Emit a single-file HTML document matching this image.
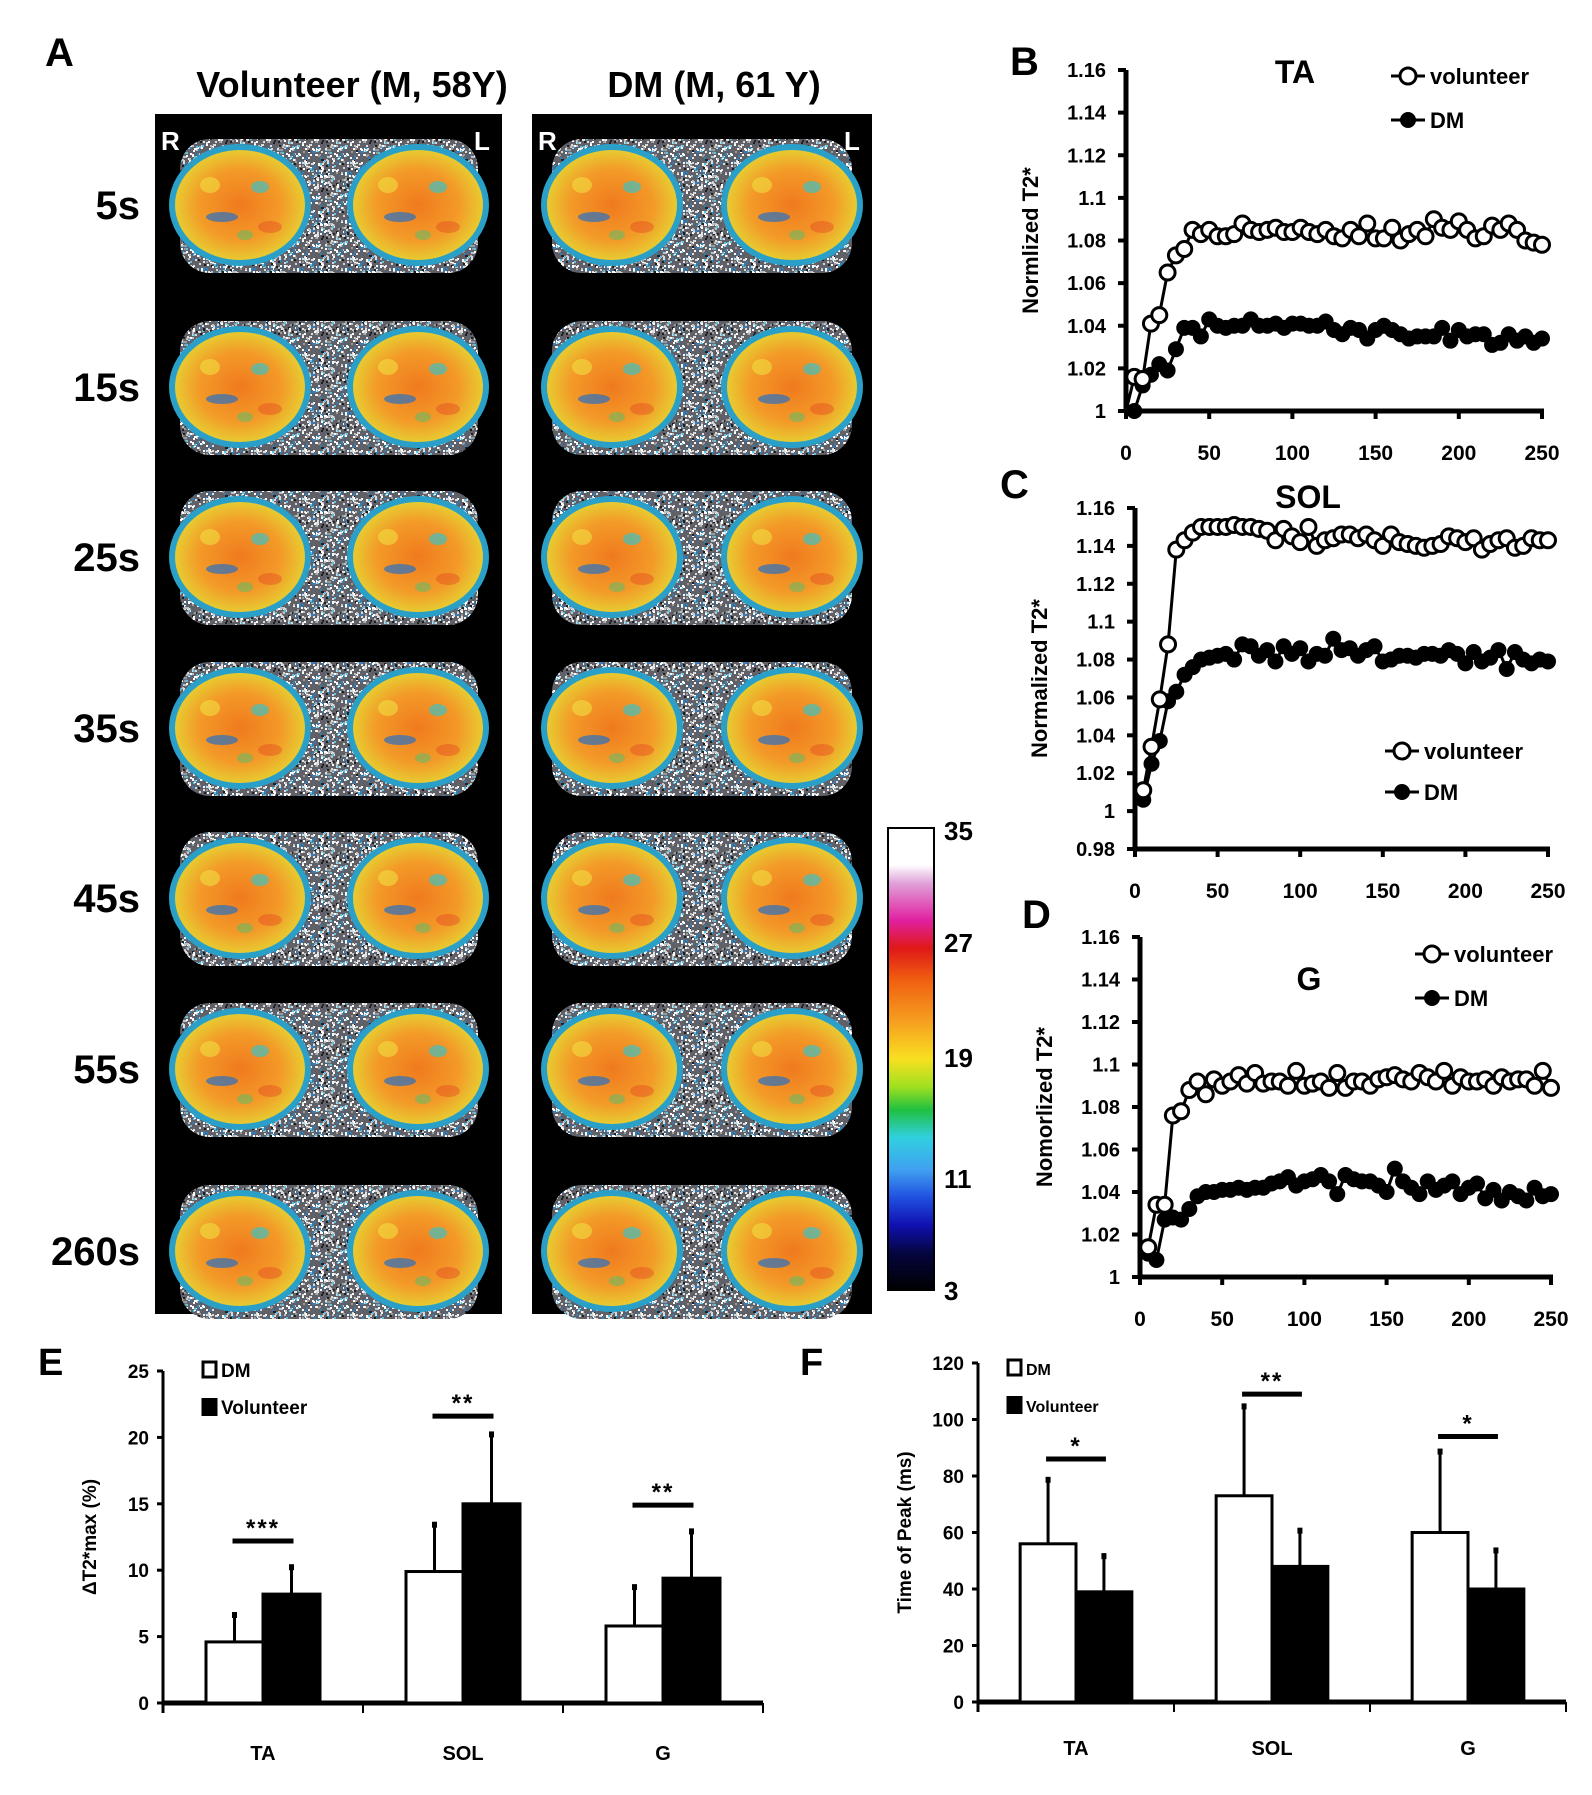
<!DOCTYPE html>
<html><head><meta charset="utf-8"><style>
html,body{margin:0;padding:0;background:#fff;}
svg{display:block;font-family:"Liberation Sans",sans-serif;font-weight:bold;}
</style></head><body>
<svg id="fig" width="1592" height="1795" viewBox="0 0 1592 1795" xmlns="http://www.w3.org/2000/svg">
<defs>
<radialGradient id="legGrad" cx="50%" cy="50%" r="55%">
<stop offset="0%" stop-color="#f07a1e"/><stop offset="55%" stop-color="#f39a28"/><stop offset="85%" stop-color="#e8c830"/><stop offset="100%" stop-color="#9fd060"/>
</radialGradient>
<linearGradient id="cbGrad" x1="0" y1="0" x2="0" y2="1">
<stop offset="0" stop-color="#ffffff"/><stop offset="0.08" stop-color="#ffffff"/><stop offset="0.12" stop-color="#e0a0d8"/><stop offset="0.2" stop-color="#e020a0"/><stop offset="0.26" stop-color="#e01818"/><stop offset="0.33" stop-color="#f06010"/><stop offset="0.42" stop-color="#f6a020"/><stop offset="0.5" stop-color="#f8e020"/><stop offset="0.56" stop-color="#a0e020"/><stop offset="0.61" stop-color="#20c040"/><stop offset="0.67" stop-color="#30d0e0"/><stop offset="0.74" stop-color="#40a0f0"/><stop offset="0.8" stop-color="#2050e0"/><stop offset="0.86" stop-color="#1010b0"/><stop offset="0.92" stop-color="#050540"/><stop offset="1" stop-color="#000"/>
</linearGradient>
<pattern id="speckle" width="48" height="48" patternUnits="userSpaceOnUse"><g id="speckleTile"></g></pattern>
</defs>
<g id="root"></g>
</svg>
<script>
// ---------- data ----------
const timeB = [5,10,15,20,25,30,35,40,45,50,55,60,65,70,75,80,85,90,95,100,105,110,115,120,125,130,135,140,145,150,155,160,165,170,175,180,185,190,195,200,205,210,215,220,225,230,235,240,245,250];
const taVolunteer = [1.016,1.015,1.041,1.045,1.065,1.073,1.076,1.085,1.083,1.085,1.082,1.082,1.083,1.088,1.085,1.084,1.085,1.086,1.084,1.084,1.086,1.084,1.083,1.085,1.082,1.081,1.085,1.082,1.088,1.081,1.081,1.086,1.080,1.083,1.085,1.082,1.090,1.086,1.085,1.089,1.085,1.081,1.082,1.087,1.085,1.088,1.085,1.080,1.079,1.078];
const taDM = [1.000,1.012,1.017,1.022,1.019,1.029,1.039,1.039,1.035,1.043,1.040,1.039,1.040,1.040,1.043,1.040,1.040,1.041,1.039,1.041,1.041,1.040,1.040,1.042,1.038,1.036,1.039,1.038,1.034,1.038,1.040,1.038,1.036,1.034,1.035,1.035,1.035,1.039,1.033,1.038,1.035,1.036,1.036,1.031,1.032,1.036,1.033,1.035,1.032,1.034];
const solVolunteer = [1.011,1.034,1.059,1.088,1.138,1.143,1.147,1.150,1.150,1.150,1.150,1.151,1.150,1.150,1.149,1.148,1.143,1.149,1.145,1.142,1.150,1.140,1.143,1.144,1.146,1.146,1.144,1.146,1.143,1.140,1.146,1.142,1.141,1.140,1.139,1.140,1.141,1.145,1.144,1.142,1.144,1.138,1.141,1.143,1.144,1.139,1.140,1.144,1.143,1.143];
const solDM = [1.006,1.025,1.037,1.058,1.063,1.072,1.076,1.080,1.081,1.082,1.083,1.080,1.088,1.087,1.082,1.085,1.079,1.087,1.083,1.086,1.079,1.083,1.082,1.091,1.085,1.086,1.082,1.085,1.087,1.079,1.080,1.082,1.082,1.081,1.083,1.083,1.082,1.085,1.083,1.078,1.084,1.079,1.081,1.085,1.075,1.084,1.080,1.078,1.080,1.079];
const gVolunteer = [1.014,1.034,1.034,1.076,1.078,1.088,1.092,1.086,1.093,1.090,1.092,1.095,1.091,1.096,1.091,1.092,1.092,1.090,1.097,1.090,1.091,1.092,1.089,1.096,1.089,1.092,1.092,1.090,1.093,1.094,1.095,1.093,1.092,1.096,1.094,1.092,1.097,1.090,1.094,1.092,1.092,1.093,1.090,1.094,1.092,1.093,1.093,1.090,1.097,1.089];
const gDM = [1.011,1.008,1.027,1.028,1.027,1.032,1.038,1.040,1.040,1.041,1.041,1.042,1.041,1.042,1.042,1.044,1.045,1.047,1.043,1.045,1.046,1.048,1.045,1.039,1.048,1.046,1.045,1.045,1.043,1.040,1.051,1.045,1.042,1.039,1.045,1.041,1.043,1.045,1.039,1.042,1.044,1.037,1.041,1.036,1.040,1.038,1.036,1.042,1.038,1.039];
const xTicks = [0,50,100,150,200,250];
const yTicksBD = [1,1.02,1.04,1.06,1.08,1.1,1.12,1.14,1.16];
const yTickLabelsBD = ["1","1.02","1.04","1.06","1.08","1.1","1.12","1.14","1.16"];
const yTicksC = [0.98,1,1.02,1.04,1.06,1.08,1.1,1.12,1.14,1.16];
const yTickLabelsC = ["0.98","1","1.02","1.04","1.06","1.08","1.1","1.12","1.14","1.16"];

const barCategories = ["TA","SOL","G"];
const eDM = [4.6,9.9,5.8];
const eDMErr = [6.7,13.5,8.8];
const eVol = [8.2,15.0,9.4];
const eVolErr = [10.3,20.3,13.0];
const eSigLevel = [12.2,21.6,14.9];
const eSigText = ["***","**","**"];
const eTicks = [0,5,10,15,20,25];
const fDM = [56,73,60];
const fDMErr = [79,105,89];
const fVol = [39,48,40];
const fVolErr = [52,61,54];
const fSigLevel = [86,109,94];
const fSigText = ["*","**","*"];
const fTicks = [0,20,40,60,80,100,120];
const timeLabels = ["5s","15s","25s","35s","45s","55s","260s"];
const colorbarLabels = ["35","27","19","11","3"];

// ---------- helpers ----------
const NS="http://www.w3.org/2000/svg";
const root=document.getElementById('root');
function mk(tag,attrs,parent,text){const e=document.createElementNS(NS,tag);for(const k in attrs)e.setAttribute(k,attrs[k]);if(text!==undefined)e.textContent=text;(parent||root).appendChild(e);return e;}

let seed=7;function rnd(){seed=(seed*16807)%2147483647;return seed/2147483647;}
const tile=document.getElementById('speckleTile');
const specCols=["#ffffff","#d8d8d8","#9a9a9a","#3080c0","#60c0e0","#ffffff","#c0c0c0","#202020","#e0e0e0"];
mk('rect',{x:0,y:0,width:48,height:48,fill:'#606068'},tile);
for(let i=0;i<320;i++){mk('rect',{x:Math.floor(rnd()*47),y:Math.floor(rnd()*47),width:2,height:2,fill:specCols[Math.floor(rnd()*specCols.length)]},tile);}

function txt(x,y,s,size,name,anchor,extra){const t=mk('text',Object.assign({x:x,y:y,'font-size':size,'text-anchor':anchor||'start',fill:'#000'},extra||{}),root,s);

return t;}
txt(45,66,"A",40,"panel-label-a");
txt(352,97,"Volunteer (M, 58Y)",36,"volunteer-header","middle");
txt(714,97,"DM (M, 61 Y)",36,"dm-header","middle");

const rowCenters=[205,387,557,728,898,1069,1251];
function mriPanel(x0,x1,name,leftC,rightC){
  const g=mk('g',{});
  
  
  mk('rect',{x:x0,y:114,width:x1-x0,height:1200,fill:'#000'},g);
  rowCenters.forEach((yc,i)=>{
    const cell=mk('g',{},g);
    
    
    mk('rect',{x:leftC-60,y:yc-66,width:rightC-leftC+120,height:134,rx:30,fill:'url(#speckle)'},cell);
    [leftC,rightC].forEach(cx=>{
      mk('ellipse',{cx:cx,cy:yc,rx:68,ry:58,fill:'url(#legGrad)',stroke:'#2aa0c8','stroke-width':6},cell);
      mk('ellipse',{cx:cx-18,cy:yc+12,rx:16,ry:5,fill:'#2a70c0',opacity:0.7},cell);
      mk('ellipse',{cx:cx+20,cy:yc-18,rx:9,ry:6,fill:'#40c0c0',opacity:0.7},cell);
      mk('ellipse',{cx:cx-30,cy:yc-20,rx:10,ry:8,fill:'#f0e040',opacity:0.6},cell);
      mk('ellipse',{cx:cx+30,cy:yc+22,rx:12,ry:6,fill:'#e04020',opacity:0.4},cell);
      mk('ellipse',{cx:cx+5,cy:yc+30,rx:8,ry:5,fill:'#50c070',opacity:0.5},cell);
    });
  });
  mk('text',{x:x0+6,y:150,'font-size':26,fill:'#fff'},g,'R');
  mk('text',{x:x1-28,y:150,'font-size':26,fill:'#fff'},g,'L');
}
mriPanel(155,502,'volunteer-mri-panel',240,418);
mriPanel(532,872,'dm-mri-panel',612,792);
timeLabels.forEach((s,i)=>{txt(140,rowCenters[i]+14,s,40,'time-label-'+s,'end');});

const cb=mk('rect',{x:888,y:828,width:46,height:462,fill:'url(#cbGrad)',stroke:'#000','stroke-width':2});


const cbY=[840,952,1067,1188,1300];
colorbarLabels.forEach((s,i)=>txt(944,cbY[i],s,26,'colorbar-label-'+s));

function lineChart(o){
  const g=mk('g',{});
  
  
  const sx=v=>o.x0+(v-0)/(250)*(o.x1-o.x0);
  const sy=v=>o.yb+(v-o.ymin)/(o.ymax-o.ymin)*(o.yt-o.yb);
  mk('line',{x1:o.x0,y1:o.yt,x2:o.x0,y2:o.yb+2,stroke:'#000','stroke-width':5},g);
  mk('line',{x1:o.x0-2,y1:o.yb,x2:o.x1+2,y2:o.yb,stroke:'#000','stroke-width':5},g);
  o.yt_.forEach((v,i)=>{mk('line',{x1:o.x0-8,y1:sy(v),x2:o.x0,y2:sy(v),stroke:'#000','stroke-width':4},g);
    mk('text',{x:o.x0-20,y:sy(v)+7,'font-size':20,'text-anchor':'end'},g,o.ytl[i]);});
  xTicks.forEach(v=>{mk('line',{x1:sx(v),y1:o.yb,x2:sx(v),y2:o.yb+8,stroke:'#000','stroke-width':4},g);
    mk('text',{x:sx(v),y:o.xly,'font-size':21,'text-anchor':'middle'},g,String(v));});
  const t=mk('text',{x:0,y:0,'font-size':22,'text-anchor':'middle',transform:`translate(${o.x0-88},${(o.yt+o.yb)/2}) rotate(-90)`},g,o.ytitle);
  
  
  mk('text',{x:o.tx,y:o.ty,'font-size':32,'text-anchor':'middle'},g,o.title);
  function series(vals,filled,nm){
    const sg=mk('g',{},g);
    
    
    const pts=vals.map((v,i)=>sx(timeB[i])+','+sy(Math.max(v,o.ymin))).join(' ');
    mk('polyline',{points:(o.start?sx(0)+','+sy(1)+' ':'')+pts,fill:'none',stroke:'#000','stroke-width':3},sg);
    vals.forEach((v,i)=>{mk('circle',{cx:sx(timeB[i]),cy:sy(v),r:filled?6.5:7.5,fill:filled?'#000':'#fff',stroke:'#000','stroke-width':3},sg);});
  }
  series(o.dm,true,o.name+'-dm-series');
  series(o.vol,false,o.name+'-volunteer-series');
  const lg=mk('g',{},g);
  
  
  [[o.ly1,'volunteer',false],[o.ly2,'DM',true]].forEach(([y,s,f])=>{
    mk('line',{x1:o.lx-17,y1:y,x2:o.lx+17,y2:y,stroke:'#000','stroke-width':3},lg);
    mk('circle',{cx:o.lx,cy:y,r:f?6.5:8,fill:f?'#000':'#fff',stroke:'#000','stroke-width':3},lg);
    mk('text',{x:o.lx+22,y:y+8,'font-size':22},lg,s);
  });
}
txt(1010,75,"B",40,"panel-label-b");
lineChart({name:'chart-b-ta',x0:1126,x1:1542,yt:70,yb:411,ymin:1,ymax:1.16,yt_:yTicksBD,ytl:yTickLabelsBD,xly:460,ytitle:'Normlized T2*',title:'TA',tx:1295,ty:83,vol:taVolunteer,dm:taDM,lx:1408,ly1:76,ly2:120,start:true});
txt(1000,498,"C",40,"panel-label-c");
lineChart({name:'chart-c-sol',x0:1135,x1:1548,yt:508,yb:849,ymin:0.98,ymax:1.16,yt_:yTicksC,ytl:yTickLabelsC,xly:898,ytitle:'Normalized T2*',title:'SOL',tx:1308,ty:508,vol:solVolunteer,dm:solDM,lx:1402,ly1:751,ly2:792});
txt(1022,928,"D",40,"panel-label-d");
lineChart({name:'chart-d-g',x0:1140,x1:1551,yt:937,yb:1277,ymin:1,ymax:1.16,yt_:yTicksBD,ytl:yTickLabelsBD,xly:1326,ytitle:'Nomorlized T2*',title:'G',tx:1309,ty:990,vol:gVolunteer,dm:gDM,lx:1432,ly1:954,ly2:998});

function barChart(o){
  const g=mk('g',{});
  
  
  const sy=v=>o.yb-(v/o.ymax)*(o.yb-o.yt);
  const cw=(o.x1-o.x0)/3;
  mk('line',{x1:o.x0,y1:o.yt,x2:o.x0,y2:o.yb+10,stroke:'#000','stroke-width':3},g);
  mk('line',{x1:o.x0,y1:o.yb,x2:o.x1,y2:o.yb,stroke:'#000','stroke-width':5},g);
  for(let i=0;i<=3;i++)mk('line',{x1:o.x0+i*cw,y1:o.yb,x2:o.x0+i*cw,y2:o.yb+10,stroke:'#000','stroke-width':2},g);
  o.ticks.forEach(v=>{mk('line',{x1:o.x0-6,y1:sy(v),x2:o.x0,y2:sy(v),stroke:'#000','stroke-width':3},g);
    mk('text',{x:o.x0-14,y:sy(v)+7,'font-size':19,'text-anchor':'end'},g,String(v));});
  const t=mk('text',{x:0,y:0,'font-size':19,'text-anchor':'middle',transform:`translate(${o.x0-67},${(o.yt+o.yb)/2}) rotate(-90)`},g,o.ytitle);
  
  
  const bw=cw*0.285;
  barCategories.forEach((c,i)=>{
    const cx=o.x0+cw*(i+0.5);
    const bx1=cx-bw, bx2=cx;
    mk('line',{x1:bx1+bw/2,y1:sy(o.dm[i]),x2:bx1+bw/2,y2:sy(o.dmErr[i]),stroke:'#000','stroke-width':3},g);
    mk('rect',{x:bx1+bw/2-2.5,y:sy(o.dmErr[i])-2,width:5,height:6,fill:'#000'},g);
    mk('line',{x1:bx2+bw/2,y1:sy(o.vol[i]),x2:bx2+bw/2,y2:sy(o.volErr[i]),stroke:'#000','stroke-width':3},g);
    mk('rect',{x:bx2+bw/2-2.5,y:sy(o.volErr[i])-2,width:5,height:6,fill:'#000'},g);
    const r1=mk('rect',{x:bx1,y:sy(o.dm[i]),width:bw,height:o.yb-sy(o.dm[i]),fill:'#fff',stroke:'#000','stroke-width':3},g);
    
    
    const r2=mk('rect',{x:bx2,y:sy(o.vol[i]),width:bw,height:o.yb-sy(o.vol[i]),fill:'#000',stroke:'#000','stroke-width':3},g);
    
    
    mk('line',{x1:cx-bw/2-2,y1:sy(o.sig[i]),x2:cx+bw/2+2,y2:sy(o.sig[i]),stroke:'#000','stroke-width':5},g);
    mk('text',{x:cx,y:sy(o.sig[i])-5,'font-size':24,'text-anchor':'middle','letter-spacing':2},g,o.sigT[i]);
    mk('text',{x:cx,y:o.catY,'font-size':20,'text-anchor':'middle'},g,c);
  });
  const lg=mk('g',{},g);
  
  
  mk('rect',{x:o.lx,y:o.ly-8,width:13,height:15,fill:'#fff',stroke:'#000','stroke-width':3},lg);
  mk('text',{x:o.lx+18,y:o.ly+7,'font-size':o.lfs},lg,'DM');
  mk('rect',{x:o.lx-1.5,y:o.ly+28,width:16,height:18,fill:'#000'},lg);
  mk('text',{x:o.lx+18,y:o.ly+44,'font-size':o.lfs},lg,'Volunteer');
}
txt(38,1375,"E",38,"panel-label-e");
barChart({name:'chart-e-delta-t2',x0:163,x1:763,yt:1371,yb:1703,ymax:25,ticks:eTicks,ytitle:'ΔT2*max (%)',dm:eDM,dmErr:eDMErr,vol:eVol,volErr:eVolErr,sig:eSigLevel,sigT:eSigText,catY:1760,lx:203,ly:1370,lfs:19});
txt(800,1375,"F",38,"panel-label-f");
barChart({name:'chart-f-time-of-peak',x0:978,x1:1566,yt:1363,yb:1702,ymax:120,ticks:fTicks,ytitle:'Time of Peak (ms)',dm:fDM,dmErr:fDMErr,vol:fVol,volErr:fVolErr,sig:fSigLevel,sigT:fSigText,catY:1755,lx:1008,ly:1368,lfs:16});
</script>
</body></html>
